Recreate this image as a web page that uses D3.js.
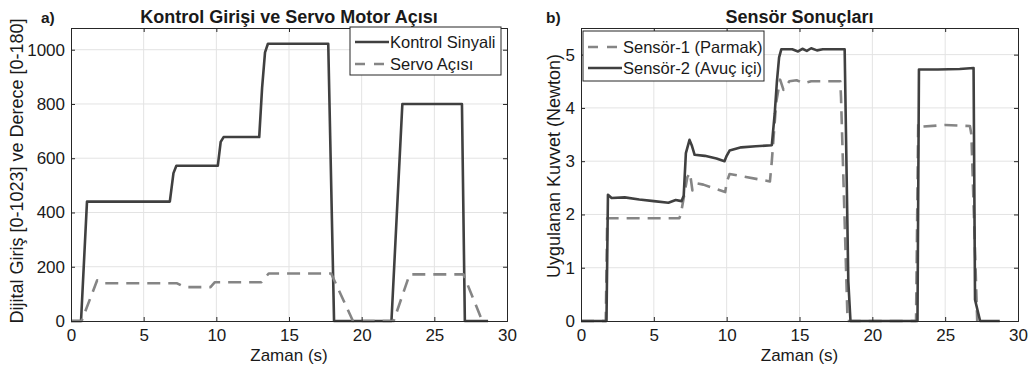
<!DOCTYPE html>
<html>
<head>
<meta charset="utf-8">
<script src="https://cdn.jsdelivr.net/npm/d3@7"></script>
<style>
  body { margin: 0; background: #fff; }
  text { font-family: "Liberation Sans", Arial, sans-serif; fill: #1a1a1a; }
</style>
</head>
<body>
<svg id="chart" width="1029" height="365"></svg>
<script>
// --- panel a) data (time in s, value)
const xTicks = [0, 5, 10, 15, 20, 25, 30];
const yTicksA = [0, 200, 400, 600, 800, 1000];
const yTicksB = [0, 1, 2, 3, 4, 5];

const kontrolT = [0, 0.69, 1.1, 6.8, 7.05, 7.25, 10.1, 10.3, 10.5, 12.95, 13.15, 13.35, 13.55, 17.7, 18.1, 22.05, 22.8, 26.9, 27.1, 28.7];
const kontrolV = [0, 0, 440, 440, 545, 572, 572, 660, 678, 678, 860, 990, 1022, 1022, 0, 0, 800, 800, 0, 0];

const servoT = [0, 0.73, 1.8, 2.2, 7.3, 7.8, 9.6, 9.9, 13.1, 13.6, 17.9, 19.4, 22.2, 23.3, 27.0, 28.3];
const servoV = [0, 0, 150, 139, 139, 125, 125, 143, 143, 175, 175, 0, 0, 172, 172, 0];

// --- panel b) data
const sensor2T = [0, 1.75, 1.85, 2.1, 3, 4, 5, 6.0, 6.5, 6.9, 7.05, 7.2, 7.45, 7.6, 7.8, 8.5, 9.3, 9.85, 10.0, 10.2, 11, 12, 13.1, 13.3, 13.45, 13.6, 13.75,
  14.5, 14.9, 15.2, 15.5, 15.8, 16.2, 16.6, 18.1, 18.35, 18.5, 23.1, 23.2, 24.5, 26.0, 26.95, 27.05, 27.4, 28.75];
const sensor2V = [0, 0, 2.37, 2.31, 2.32, 2.28, 2.25, 2.22, 2.27, 2.25, 2.35, 3.15, 3.4, 3.3, 3.12, 3.1, 3.05, 3.0, 3.1, 3.2, 3.26, 3.28, 3.3, 3.9, 4.5, 4.95, 5.1,
  5.1, 5.06, 5.11, 5.07, 5.12, 5.08, 5.1, 5.1, 0.75, 0, 0, 4.72, 4.72, 4.73, 4.75, 0.4, 0, 0];

const sensor1T = [0, 1.7, 1.8, 6.75, 6.85, 7.3, 7.48, 7.65, 8.0, 8.4, 9.9, 10.0, 10.2, 12.97, 13.1, 13.4, 13.67, 13.9, 14.3, 14.8, 15.3, 15.8, 17.8, 17.85, 18.3,
  23.0, 23.15, 23.5, 25.0, 26.7, 26.8, 27.2];
const sensor1V = [0, 0, 1.93, 1.93, 2.0, 2.7, 2.78, 2.45, 2.58, 2.56, 2.42, 2.6, 2.76, 2.62, 3.0, 4.1, 4.53, 4.34, 4.5, 4.52, 4.46, 4.5, 4.5, 4.2, 0,
  0, 3.72, 3.65, 3.68, 3.66, 3.5, 0];

const darkColor = "#404040";
const grayColor = "#858585";

const svg = d3.select("#chart");

function drawPanel(cfg) {
  const x = d3.scaleLinear().domain([0, 30]).range([cfg.left, cfg.right]);
  const y = d3.scaleLinear().domain(cfg.yDomain).range([cfg.bottom, cfg.top]);
  const g = svg.append("g");

  // grid
  g.selectAll(".gx").data(xTicks.slice(1, -1)).enter().append("line")
    .attr("x1", d => x(d)).attr("x2", d => x(d))
    .attr("y1", cfg.top).attr("y2", cfg.bottom)
    .attr("stroke", "#e3e3e3").attr("stroke-width", 1);
  g.selectAll(".gy").data(cfg.yTicks.slice(1)).enter().append("line")
    .attr("x1", cfg.left).attr("x2", cfg.right)
    .attr("y1", d => y(d)).attr("y2", d => y(d))
    .attr("stroke", "#e3e3e3").attr("stroke-width", 1);

  // series
  cfg.series.forEach(s => {
    const pts = s.t.map((t, i) => [t, s.v[i]]);
    g.append("path")
      .datum(pts)
      .attr("fill", "none")
      .attr("stroke", s.color)
      .attr("stroke-width", 2.6)
      .attr("stroke-linejoin", "round")
      .attr("stroke-dasharray", s.dash ? "13,8" : null)
      .attr("d", d3.line().x(d => x(d[0])).y(d => y(d[1])));
  });

  // axes: ticks inward, box on
  const tk = 4;
  g.append("g").attr("transform", `translate(0,${cfg.bottom})`)
    .call(d3.axisBottom(x).tickValues(xTicks).tickSize(-tk).tickPadding(8).tickFormat(d3.format("d")));
  g.append("g").attr("transform", `translate(0,${cfg.top})`)
    .call(d3.axisTop(x).tickValues(xTicks).tickSize(-tk).tickFormat(""));
  g.append("g").attr("transform", `translate(${cfg.left},0)`)
    .call(d3.axisLeft(y).tickValues(cfg.yTicks).tickSize(-tk).tickPadding(6).tickFormat(d3.format("d")));
  g.append("g").attr("transform", `translate(${cfg.right},0)`)
    .call(d3.axisRight(y).tickValues(cfg.yTicks).tickSize(-tk).tickFormat(""));
  g.selectAll(".domain").attr("stroke", "#262626");
  g.selectAll(".tick line").attr("stroke", "#262626");
  g.selectAll(".tick text").style("font-size", "17px").attr("fill", "#1a1a1a")
    .style("font-family", "'Liberation Sans', Arial, sans-serif");

  // titles and labels
  const cx = (cfg.left + cfg.right) / 2;
  g.append("text").attr("x", cx).attr("y", 23).attr("text-anchor", "middle")
    .style("font-size", "18px").style("font-weight", "bold").text(cfg.title);
  g.append("text").attr("x", cfg.tagX).attr("y", 23)
    .style("font-size", "15.5px").style("font-weight", "bold").text(cfg.tag);
  g.append("text").attr("x", cx).attr("y", 361).attr("text-anchor", "middle")
    .style("font-size", "17px").text("Zaman (s)");
  g.append("text")
    .attr("transform", `translate(${cfg.yLabelX},${cfg.yLabelY}) rotate(-90)`)
    .attr("text-anchor", "middle").style("font-size", "18px").text(cfg.yLabel);

  // legend
  const L = cfg.legend;
  const lg = g.append("g");
  lg.append("rect").attr("x", L.x).attr("y", L.y).attr("width", L.w).attr("height", L.h)
    .attr("fill", "#fff").attr("stroke", "#262626").attr("stroke-width", 1);
  L.items.forEach((it, i) => {
    const yy = L.y + L.rowY[i];
    lg.append("line").attr("x1", L.x + 5).attr("x2", L.x + L.lineW)
      .attr("y1", yy).attr("y2", yy)
      .attr("stroke", it.color).attr("stroke-width", 2.6)
      .attr("stroke-dasharray", it.dash ? "10,9" : null);
    lg.append("text").attr("x", L.x + L.lineW + 1).attr("y", yy + 6)
      .style("font-size", "16.5px").text(it.label);
  });
}

drawPanel({
  left: 71, right: 507, top: 28, bottom: 321,
  yDomain: [0, 1080], yTicks: yTicksA,
  title: "Kontrol Girişi ve Servo Motor Açısı", tag: "a)", tagX: 41,
  yLabel: "Dijital Giriş [0-1023] ve Derece [0-180]", yLabelX: 23, yLabelY: 171,
  series: [
    { t: kontrolT, v: kontrolV, color: darkColor, dash: false },
    { t: servoT, v: servoV, color: grayColor, dash: true }
  ],
  legend: {
    x: 350, y: 27, w: 151, h: 48, lineW: 39, rowY: [15, 37],
    items: [
      { label: "Kontrol Sinyali", color: darkColor, dash: false },
      { label: "Servo Açısı", color: grayColor, dash: true }
    ]
  }
});

drawPanel({
  left: 581, right: 1018, top: 28, bottom: 321,
  yDomain: [0, 5.5], yTicks: yTicksB,
  title: "Sensör Sonuçları", tag: "b)", tagX: 546,
  yLabel: "Uygulanan Kuvvet (Newton)", yLabelX: 560, yLabelY: 166,
  series: [
    { t: sensor1T, v: sensor1V, color: grayColor, dash: true },
    { t: sensor2T, v: sensor2V, color: darkColor, dash: false }
  ],
  legend: {
    x: 583, y: 31, w: 181, h: 50, lineW: 39, rowY: [16, 37],
    items: [
      { label: "Sensör-1 (Parmak)", color: grayColor, dash: true },
      { label: "Sensör-2 (Avuç içi)", color: darkColor, dash: false }
    ]
  }
});
</script>
</body>
</html>
